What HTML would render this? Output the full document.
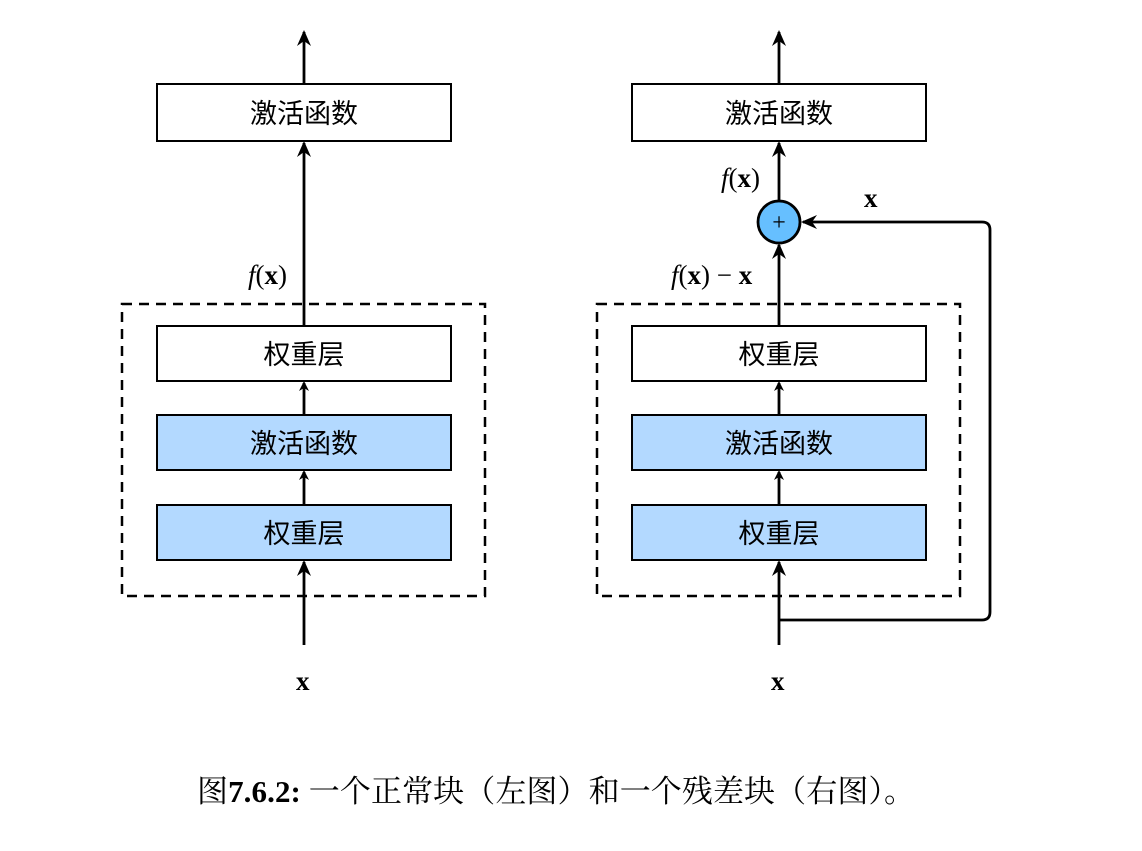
<!DOCTYPE html>
<html><head><meta charset="utf-8"><style>
body{margin:0;background:#fff}
svg text{font-family:"Liberation Serif","Noto Serif CJK SC",serif}
.c{font-family:"Liberation Sans","Noto Sans CJK SC",sans-serif;font-size:27px}
</style></head><body>
<svg width="1142" height="846" viewBox="0 0 1142 846" xmlns="http://www.w3.org/2000/svg">
<defs><marker id="a" markerWidth="10" markerHeight="10" refX="8" refY="5" orient="auto" markerUnits="userSpaceOnUse" viewBox="0 0 10 10"><path d="M0,0 L10,5 L0,10 L3,5 Z" fill="#000"/></marker>
<marker id="b" markerWidth="16" markerHeight="16" refX="14" refY="8" orient="auto" markerUnits="userSpaceOnUse" viewBox="0 0 16 16"><path d="M0,1 L16,8 L0,15 L5,8 Z" fill="#000"/></marker></defs>
<g stroke="#000" stroke-width="2.5" fill="none">
<rect x="122" y="304" width="363" height="292" stroke-dasharray="10,7"/>
<rect x="597" y="304" width="363" height="292" stroke-dasharray="10,7"/>
</g>
<g stroke="#000" stroke-width="2">
<rect x="157" y="84" width="294" height="57" fill="#fff"/>
<rect x="157" y="326" width="294" height="55" fill="#fff"/>
<rect x="157" y="415" width="294" height="55" fill="#b3d9ff"/>
<rect x="157" y="505" width="294" height="55" fill="#b3d9ff"/>
<rect x="632" y="84" width="294" height="57" fill="#fff"/>
<rect x="632" y="326" width="294" height="55" fill="#fff"/>
<rect x="632" y="415" width="294" height="55" fill="#b3d9ff"/>
<rect x="632" y="505" width="294" height="55" fill="#b3d9ff"/>
</g>
<g stroke="#000" stroke-width="2.8" fill="none">
<line x1="304" y1="84" x2="304" y2="32" marker-end="url(#b)"/>
<line x1="304" y1="326" x2="304" y2="143" marker-end="url(#b)"/>
<line x1="304" y1="415" x2="304" y2="383" marker-end="url(#a)"/>
<line x1="304" y1="505" x2="304" y2="472" marker-end="url(#a)"/>
<line x1="304" y1="645" x2="304" y2="562" marker-end="url(#b)"/>
<line x1="779" y1="84" x2="779" y2="32" marker-end="url(#b)"/>
<line x1="779" y1="201" x2="779" y2="143" marker-end="url(#b)"/>
<line x1="779" y1="326" x2="779" y2="245" marker-end="url(#b)"/>
<line x1="779" y1="415" x2="779" y2="383" marker-end="url(#a)"/>
<line x1="779" y1="505" x2="779" y2="472" marker-end="url(#a)"/>
<line x1="779" y1="645" x2="779" y2="562" marker-end="url(#b)"/>
<path d="M779,620 L982,620 Q990,620 990,612 L990,230 Q990,222 982,222 L803,222" marker-end="url(#b)"/>
</g>
<circle cx="779" cy="222" r="21" fill="#66bfff" stroke="#000" stroke-width="2.8"/>
<text x="779" y="230" font-size="24" text-anchor="middle" font-family="Liberation Sans">+</text>
<g class="c" text-anchor="middle">
<text class="c" x="304" y="123">激活函数</text>
<text class="c" x="304" y="364">权重层</text>
<text class="c" x="304" y="453">激活函数</text>
<text class="c" x="304" y="543">权重层</text>
<text class="c" x="779" y="123">激活函数</text>
<text class="c" x="779" y="364">权重层</text>
<text class="c" x="779" y="453">激活函数</text>
<text class="c" x="779" y="543">权重层</text>
</g>
<g font-size="27">
<text x="248" y="284"><tspan font-style="italic">f</tspan>(<tspan font-weight="bold">x</tspan>)</text>
<text x="721" y="187"><tspan font-style="italic">f</tspan>(<tspan font-weight="bold">x</tspan>)</text>
<text x="671" y="284"><tspan font-style="italic">f</tspan>(<tspan font-weight="bold">x</tspan>) − <tspan font-weight="bold">x</tspan></text>
<text x="864" y="207" font-weight="bold">x</text>
<text x="296" y="690" font-weight="bold">x</text>
<text x="771" y="690" font-weight="bold">x</text>
</g>
<text x="197" y="802" font-size="31" textLength="718" lengthAdjust="spacing" font-family="Liberation Serif,Noto Serif CJK SC,serif">图<tspan font-weight="bold">7.6.2:</tspan> 一个正常块（左图）和一个残差块（右图）。</text>
</svg>
</body></html>
